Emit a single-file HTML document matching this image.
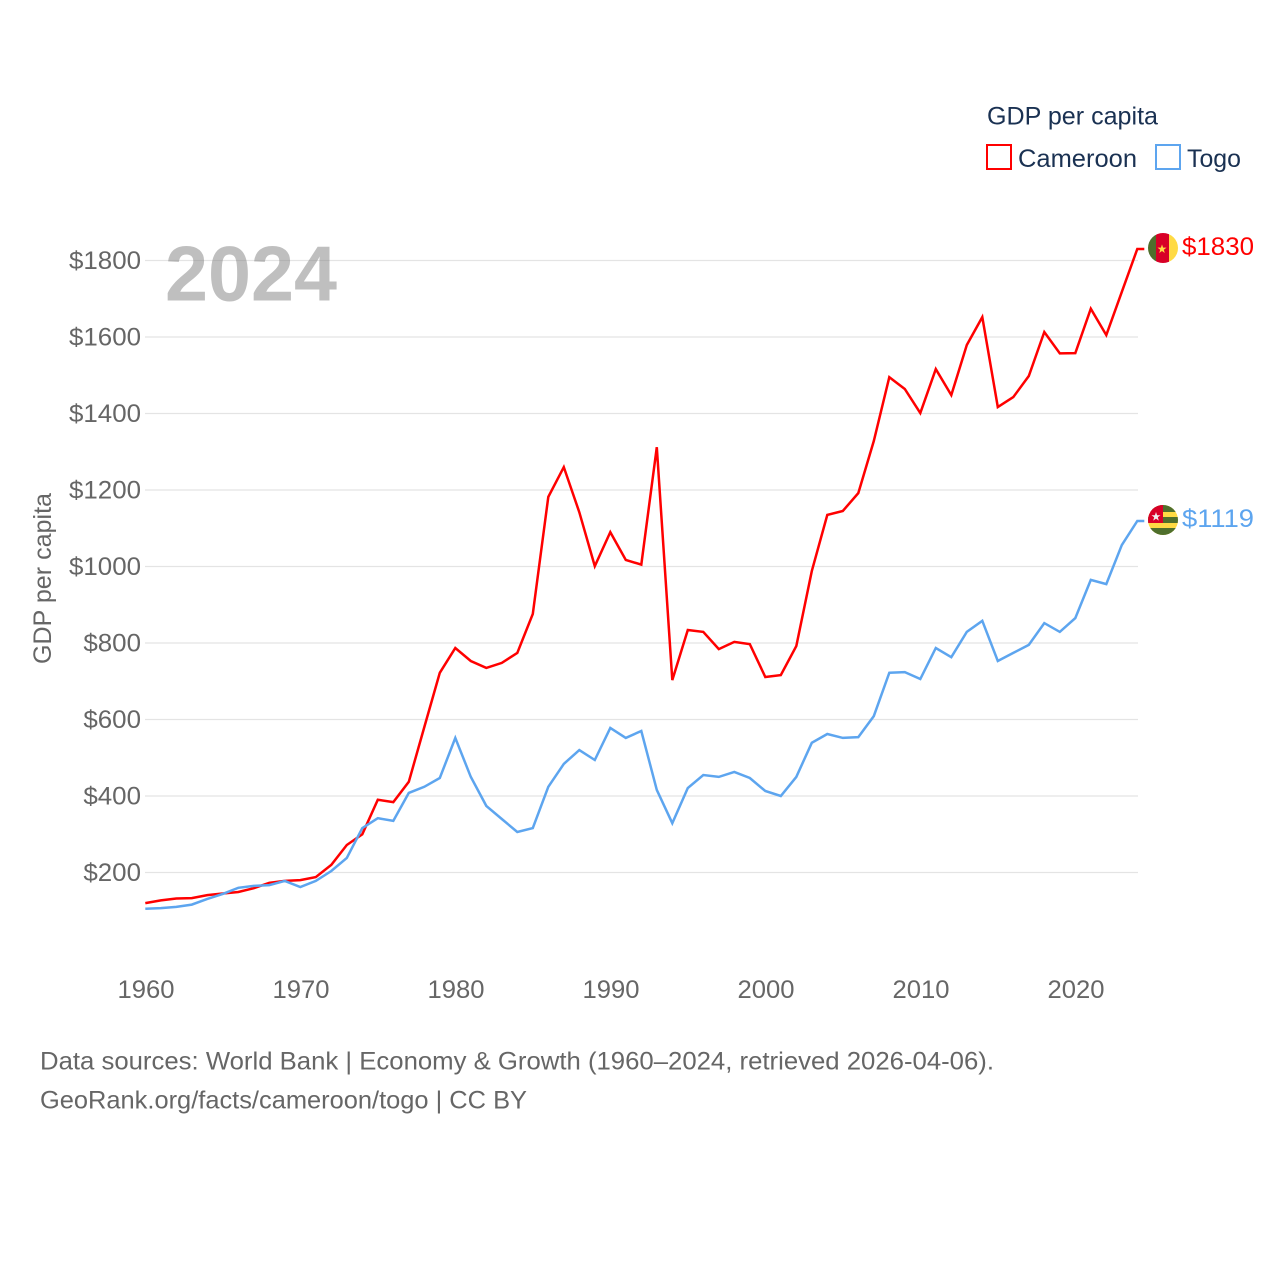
<!DOCTYPE html>
<html lang="en">
<head>
<meta charset="utf-8">
<title>GDP per capita: Cameroon and Togo</title>
<style>
html,body{margin:0;padding:0;background:#fff}
svg{display:block}
text{font-family:"Liberation Sans",sans-serif}
</style>
</head>
<body>
<svg id="chart" xmlns="http://www.w3.org/2000/svg" width="1280" height="1280" viewBox="0 0 1280 1280">
  <defs>
    <clipPath id="cm-clip"><circle cx="1163" cy="248" r="15"/></clipPath>
    <clipPath id="tg-clip"><circle cx="1163" cy="520" r="15"/></clipPath>
  </defs>
  <g id="grid"></g>
  <g id="yticks"></g>
  <g id="xticks"></g>
  <text x="165" y="300.5" font-size="78" font-weight="bold" fill="#808080" fill-opacity="0.5" textLength="172" lengthAdjust="spacingAndGlyphs">2024</text>
  <text transform="translate(51,578.5) rotate(-90)" text-anchor="middle" font-size="25" fill="#666" textLength="171" lengthAdjust="spacingAndGlyphs">GDP per capita</text>
  <g id="series"></g>

  <g clip-path="url(#cm-clip)">
    <rect x="1148" y="233" width="8" height="30" fill="#4f6f2c"/>
    <rect x="1156" y="233" width="13" height="30" fill="#d80027"/>
    <rect x="1169" y="233" width="9" height="30" fill="#ffda44"/>
    <polygon points="1162,244.4 1163.1,247.6 1166.5,247.6 1163.8,249.7 1164.8,253 1162,251 1159.2,253 1160.2,249.7 1157.5,247.6 1160.9,247.6" fill="#ffda44"/>
  </g>
  <g clip-path="url(#tg-clip)">
    <rect x="1148" y="505" width="30" height="30" fill="#ffda44"/>
    <rect x="1148" y="505" width="30" height="7" fill="#4f6f2c"/>
    <rect x="1148" y="517" width="30" height="6" fill="#4f6f2c"/>
    <rect x="1148" y="528" width="30" height="7" fill="#4f6f2c"/>
    <rect x="1148" y="505" width="15" height="18" fill="#d80027"/>
    <polygon points="1156,512 1157.1,515.2 1160.5,515.2 1157.8,517.3 1158.8,520.6 1156,518.6 1153.2,520.6 1154.2,517.3 1151.5,515.2 1154.9,515.2" fill="#f0f0f0"/>
  </g>
  <text x="1182" y="255" font-size="25" fill="#ff0000" textLength="72" lengthAdjust="spacingAndGlyphs">$1830</text>
  <text x="1182" y="527" font-size="25" fill="#5da5ef" textLength="72" lengthAdjust="spacingAndGlyphs">$1119</text>

  <g>
    <text x="987" y="124.5" font-size="25" fill="#1a3152" textLength="171" lengthAdjust="spacingAndGlyphs">GDP per capita</text>
    <rect x="987" y="145" width="24" height="24" fill="none" stroke="#ff0000" stroke-width="2"/>
    <text x="1018" y="167" font-size="25" fill="#1a3152" textLength="119" lengthAdjust="spacingAndGlyphs">Cameroon</text>
    <rect x="1156" y="145" width="24" height="24" fill="none" stroke="#5da5ef" stroke-width="2"/>
    <text x="1187" y="167" font-size="25" fill="#1a3152" textLength="54" lengthAdjust="spacingAndGlyphs">Togo</text>
  </g>

  <g>
    <text x="40" y="1069.5" font-size="25" fill="#666" textLength="954" lengthAdjust="spacingAndGlyphs">Data sources: World Bank | Economy &amp; Growth (1960–2024, retrieved 2026-04-06).</text>
    <text x="40" y="1108.5" font-size="25" fill="#666" textLength="487" lengthAdjust="spacingAndGlyphs">GeoRank.org/facts/cameroon/togo | CC BY</text>
  </g>
</svg>
<script>
var startYear = 1960;
var yTickValues = [200, 400, 600, 800, 1000, 1200, 1400, 1600, 1800];
var xTickValues = [1960, 1970, 1980, 1990, 2000, 2010, 2020];
var cameroonValues = [120,127,132,133,141,145,149,159,173,178,180,188,220,272,300,390,384,437,580,722,787,753,735,748,774,876,1182,1260,1142,1001,1090,1017,1005,1312,703,834,829,784,803,797,711,716,792,988,1135,1145,1192,1328,1495,1464,1401,1516,1448,1579,1652,1417,1443,1498,1613,1557,1558,1674,1605,1718,1830];
var togoValues = [105,107,110,116,131,144,160,165,167,178,162,178,204,238,316,342,335,408,424,447,552,450,374,340,306,316,424,484,520,494,578,552,570,416,329,421,455,450,463,447,413,400,450,539,562,552,554,609,722,724,706,787,763,829,858,753,774,795,852,829,865,965,954,1056,1119];

var NS = 'http://www.w3.org/2000/svg';
function xScale(year) { return 145.3 + (year - 1960) * 15.5; }
function yScale(v) { return 949 - v * 0.3825; }

var grid = document.getElementById('grid');
var yticks = document.getElementById('yticks');
var xticks = document.getElementById('xticks');
var series = document.getElementById('series');

yTickValues.forEach(function (v) {
  var line = document.createElementNS(NS, 'line');
  
  
  line.setAttribute('x1', 145);
  line.setAttribute('x2', 1138);
  line.setAttribute('y1', yScale(v));
  line.setAttribute('y2', yScale(v));
  line.setAttribute('stroke', '#e4e4e4');
  line.setAttribute('stroke-width', 1.2);
  grid.appendChild(line);

  var label = '$' + v;
  var t = document.createElementNS(NS, 'text');
  
  
  t.setAttribute('x', 141);
  t.setAttribute('y', yScale(v) + 8.5);
  t.setAttribute('text-anchor', 'end');
  t.setAttribute('font-size', 25);
  t.setAttribute('fill', '#666');
  t.setAttribute('textLength', label.length * 14.4);
  t.setAttribute('lengthAdjust', 'spacingAndGlyphs');
  t.textContent = label;
  yticks.appendChild(t);
});

xTickValues.forEach(function (year) {
  var t = document.createElementNS(NS, 'text');
  
  
  t.setAttribute('x', xScale(year) + 0.7);
  t.setAttribute('y', 998);
  t.setAttribute('text-anchor', 'middle');
  t.setAttribute('font-size', 25);
  t.setAttribute('fill', '#666');
  t.setAttribute('textLength', 57);
  t.setAttribute('lengthAdjust', 'spacingAndGlyphs');
  t.textContent = String(year);
  xticks.appendChild(t);
});

function seriesPoints(values) {
  var pts = values.map(function (v, i) {
    return xScale(startYear + i).toFixed(1) + ',' + yScale(v).toFixed(1);
  });
  var last = values[values.length - 1];
  pts.push((xScale(startYear + values.length - 1) + 7).toFixed(1) + ',' + yScale(last).toFixed(1));
  return pts.join(' ');
}

var cameroonLine = document.createElementNS(NS, 'polyline');


cameroonLine.setAttribute('points', seriesPoints(cameroonValues));
cameroonLine.setAttribute('fill', 'none');
cameroonLine.setAttribute('stroke', '#ff0000');
cameroonLine.setAttribute('stroke-width', 2.5);
series.appendChild(cameroonLine);

var togoLine = document.createElementNS(NS, 'polyline');


togoLine.setAttribute('points', seriesPoints(togoValues));
togoLine.setAttribute('fill', 'none');
togoLine.setAttribute('stroke', '#5da5ef');
togoLine.setAttribute('stroke-width', 2.5);
series.appendChild(togoLine);
</script>
</body>
</html>
